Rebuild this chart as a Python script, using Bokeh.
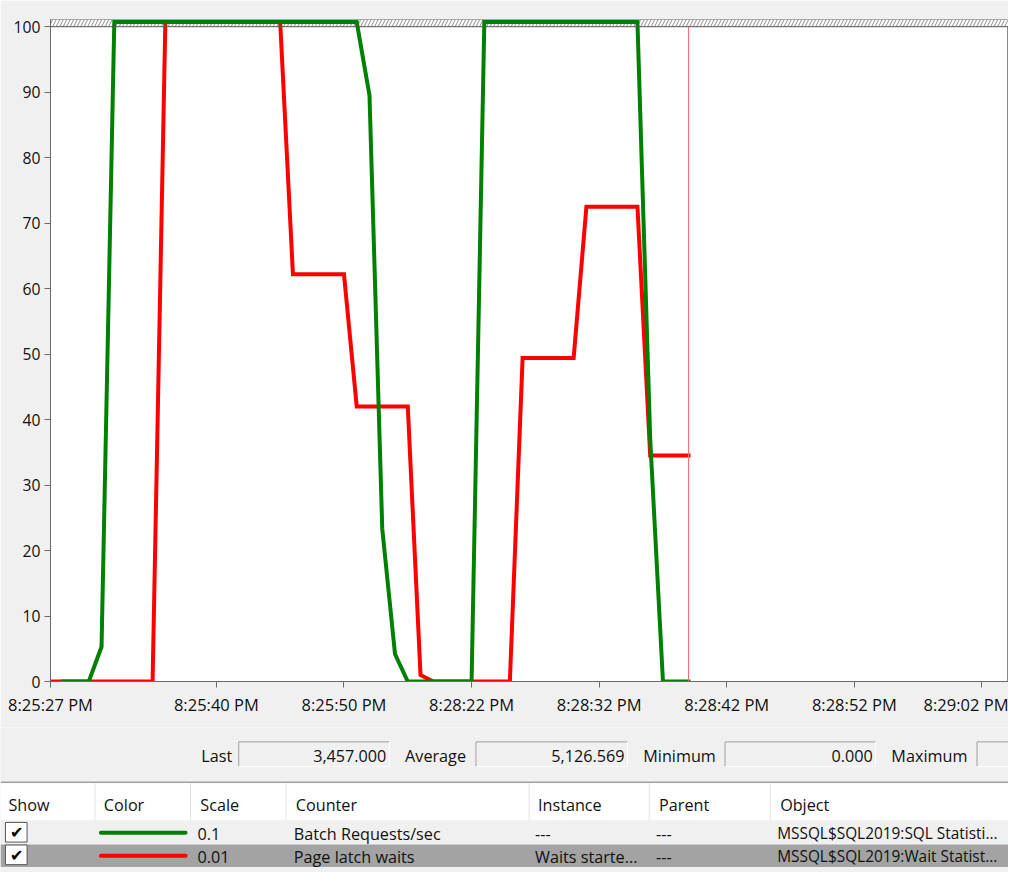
from bokeh.plotting import figure
from bokeh.models import Range1d, FixedTicker, BoxAnnotation, Span, ColumnDataSource
from bokeh.layouts import column
from bokeh.embed import file_html
from bokeh.resources import INLINE
from bokeh.core.properties import value

# ---------------- data ----------------
nan = float("nan")
sample_index = list(range(51))
# Batch Requests/sec (scale 0.1) - displayed values, clamped at the top of the chart
batch_requests = [nan, 0, 0, 0, 5.3,
                  100.7, 100.7, 100.7, 100.7, 100.7, 100.7, 100.7, 100.7, 100.7, 100.7,
                  100.7, 100.7, 100.7, 100.7, 100.7, 100.7, 100.7, 100.7, 100.7, 100.7,
                  89.5, 23.3, 4.2,
                  0, 0, 0, 0, 0, 0,
                  100.7, 100.7, 100.7, 100.7, 100.7, 100.7, 100.7, 100.7, 100.7, 100.7,
                  100.7, 100.7, 100.7,
                  37.0, 0, 0, 0]
# Page latch waits (scale 0.01)
page_latch_waits = [0, 0, 0, 0, 0, 0, 0, 0, 0,
                    100.7, 100.7, 100.7, 100.7, 100.7, 100.7, 100.7, 100.7, 100.7, 100.7,
                    62.2, 62.2, 62.2, 62.2, 62.2,
                    42.0, 42.0, 42.0, 42.0, 42.0,
                    1.0,
                    0, 0, 0, 0, 0, 0, 0,
                    49.4, 49.4, 49.4, 49.4, 49.4,
                    72.5, 72.5, 72.5, 72.5, 72.5,
                    34.5, 34.5, 34.5, 34.5]
cursor_index = 50
x_tick_positions = [0, 13, 23, 33, 43, 53, 63, 73]
x_tick_labels = ["8:25:27 PM", "8:25:40 PM", "8:25:50 PM", "8:28:22 PM",
                 "8:28:32 PM", "8:28:42 PM", "8:28:52 PM", "8:29:02 PM"]
y_ticks = [0, 10, 20, 30, 40, 50, 60, 70, 80, 90, 100]
y_max = 100

stat_labels = ["Last", "Average", "Minimum", "Maximum"]
stat_values = ["3,457.000", "5,126.569", "0.000", ""]
header_labels = ["Show", "Color", "Scale", "Counter", "Instance", "Parent", "Object"]
series_colors = ["#008000", "#FF0000"]
scales = ["0.1", "0.01"]
counters = ["Batch Requests/sec", "Page latch waits"]
instances = ["---", "Waits starte..."]
parents = ["---", "---"]
objects = ["MSSQL$SQL2019:SQL Statisti...", "MSSQL$SQL2019:Wait Statist..."]

FONT = "Open Sans"
BG = "#F0F0F0"
W, H = 1008, 872
SX, SY = W / 1024, H / 888
H1 = 727
H2 = H - H1

# ---------------- chart ----------------
p = figure(width=W, height=H1,
           x_range=Range1d(0, 75.08), y_range=Range1d(0, 101.1),
           output_backend="svg", toolbar_location=None,
           min_border_left=50, min_border_right=0,
           min_border_top=19, min_border_bottom=46)
p.frame_align = False
p.background_fill_color = "white"
p.border_fill_color = BG
p.outline_line_color = "#8C8C8C"
p.grid.visible = False

band = BoxAnnotation(bottom=y_max, fill_color="white", fill_alpha=1,
                     hatch_pattern="/", hatch_color="#8C8C8C", hatch_scale=7,
                     hatch_weight=1, line_color=None, level="underlay")
p.add_layout(band)
p.add_layout(Span(location=y_max, dimension="width", line_color="#555555", line_width=1))

src = ColumnDataSource(dict(x=sample_index, g=batch_requests, r=page_latch_waits))
p.line("x", "r", source=src, color=series_colors[1], line_width=4,
       line_join="miter", line_cap="square")
p.line("x", "g", source=src, color=series_colors[0], line_width=4,
       line_join="miter", line_cap="square")
p.segment(x0=[cursor_index], y0=[0], x1=[cursor_index], y1=[y_max],
          line_color="#FF6E6E", line_width=1)

for ax in (p.xaxis[0], p.yaxis[0]):
    ax.axis_line_color = "#6A6A6A"
    ax.major_tick_line_color = "#6A6A6A"
    ax.minor_tick_line_color = None
    ax.major_tick_in = 0
    ax.major_label_text_font = FONT
    ax.major_label_text_color = "#111111"

p.xaxis.ticker = FixedTicker(ticks=x_tick_positions)
p.xaxis.major_label_overrides = {pos: lab for pos, lab in zip(x_tick_positions, x_tick_labels)}
p.xaxis.major_tick_out = 6
p.xaxis.major_label_standoff = 5
p.xaxis.major_label_text_font_size = "16.5px"
p.yaxis.ticker = FixedTicker(ticks=y_ticks)
p.yaxis.major_tick_out = 6
p.yaxis.major_label_standoff = 4
p.yaxis.major_label_text_font_size = "15.7px"

# ---------------- bottom panel (legend table), in reference pixel units ----------------
y_top_ref = 888 - H2 / SY
q = figure(width=W, height=H2, x_range=Range1d(0, 1024), y_range=Range1d(888, y_top_ref),
           output_backend="svg", toolbar_location=None,
           x_axis_location=None, y_axis_location=None,
           min_border_left=0, min_border_right=0, min_border_top=0, min_border_bottom=0)
q.frame_align = False
q.grid.visible = False
q.outline_line_color = None
q.background_fill_color = BG
q.border_fill_color = BG

TS = "16.2px"
# statistics boxes
box_left = [242, 483, 736, 992]
box_right = [395, 637, 889, 1040]
label_x = [204, 411, 653, 905]
q.quad(left=box_left, right=box_right, top=[755] * 4, bottom=[780] * 4,
       fill_color=BG, line_color=None)
q.segment(x0=box_left, y0=[755] * 4, x1=box_right, y1=[755] * 4, line_color="#A0A0A0")
q.segment(x0=box_left, y0=[755] * 4, x1=box_left, y1=[780] * 4, line_color="#A0A0A0")
q.segment(x0=box_left, y0=[780] * 4, x1=box_right, y1=[780] * 4, line_color="white")
q.segment(x0=box_right, y0=[755] * 4, x1=box_right, y1=[780] * 4, line_color="white")
q.text(x=label_x, y=[769] * 4, text=stat_labels, text_font=value(FONT),
       text_font_size=TS, text_baseline="middle", text_align="left", text_color="#111111")
q.text(x=[r - 3 for r in box_right], y=[769] * 4, text=stat_values, text_font=value(FONT),
       text_font_size=TS, text_baseline="middle", text_align="right", text_color="#111111")

# separator and table
q.segment(x0=[0], y0=[796], x1=[1024], y1=[796], line_color="#A0A0A0", line_width=1.5)
q.quad(left=[0], right=[1024], top=[797], bottom=[835], fill_color="white", line_color=None)
q.quad(left=[0], right=[1024], top=[835], bottom=[858.5], fill_color="#F0F0F0", line_color=None)
q.quad(left=[0], right=[1024], top=[859.5], bottom=[882.5], fill_color="#A3A3A3", line_color=None)
col_sep = [96, 193, 290, 537, 659, 782]
q.segment(x0=col_sep, y0=[797] * 6, x1=col_sep, y1=[835] * 6, line_color="#E3E3E3")
header_x = [8, 105, 203, 300, 546, 669, 792]
q.text(x=header_x, y=[819] * 7, text=header_labels, text_font=value(FONT),
       text_font_size=TS, text_baseline="middle", text_align="left", text_color="#111111")

row_y = [847.5, 871]
# checkboxes
q.quad(left=[5, 5], right=[27, 27], top=[837, 860], bottom=[857, 880],
       fill_color="white", line_color="#555555")
q.text(x=[16.5, 16.5], y=row_y, text=["\u2714", "\u2714"], text_font=value("DejaVu Sans"),
       text_font_size="16px", text_baseline="middle", text_align="center", text_color="black")
# colour samples
q.segment(x0=[102, 102], y0=row_y, x1=[188, 188], y1=row_y, line_color=series_colors,
          line_width=4, line_cap="round")
for col_x, vals, size in ((200, scales, TS), (298, counters, TS), (543, instances, TS),
                          (666, parents, TS), (789, objects, "15.4px")):
    q.text(x=[col_x] * 2, y=[r + 1 for r in row_y], text=vals, text_font=value(FONT),
           text_font_size=size, text_baseline="middle", text_align="left", text_color="#111111")

layout = column(p, q, spacing=0)
open("out.html", "w").write(file_html(layout, INLINE))
